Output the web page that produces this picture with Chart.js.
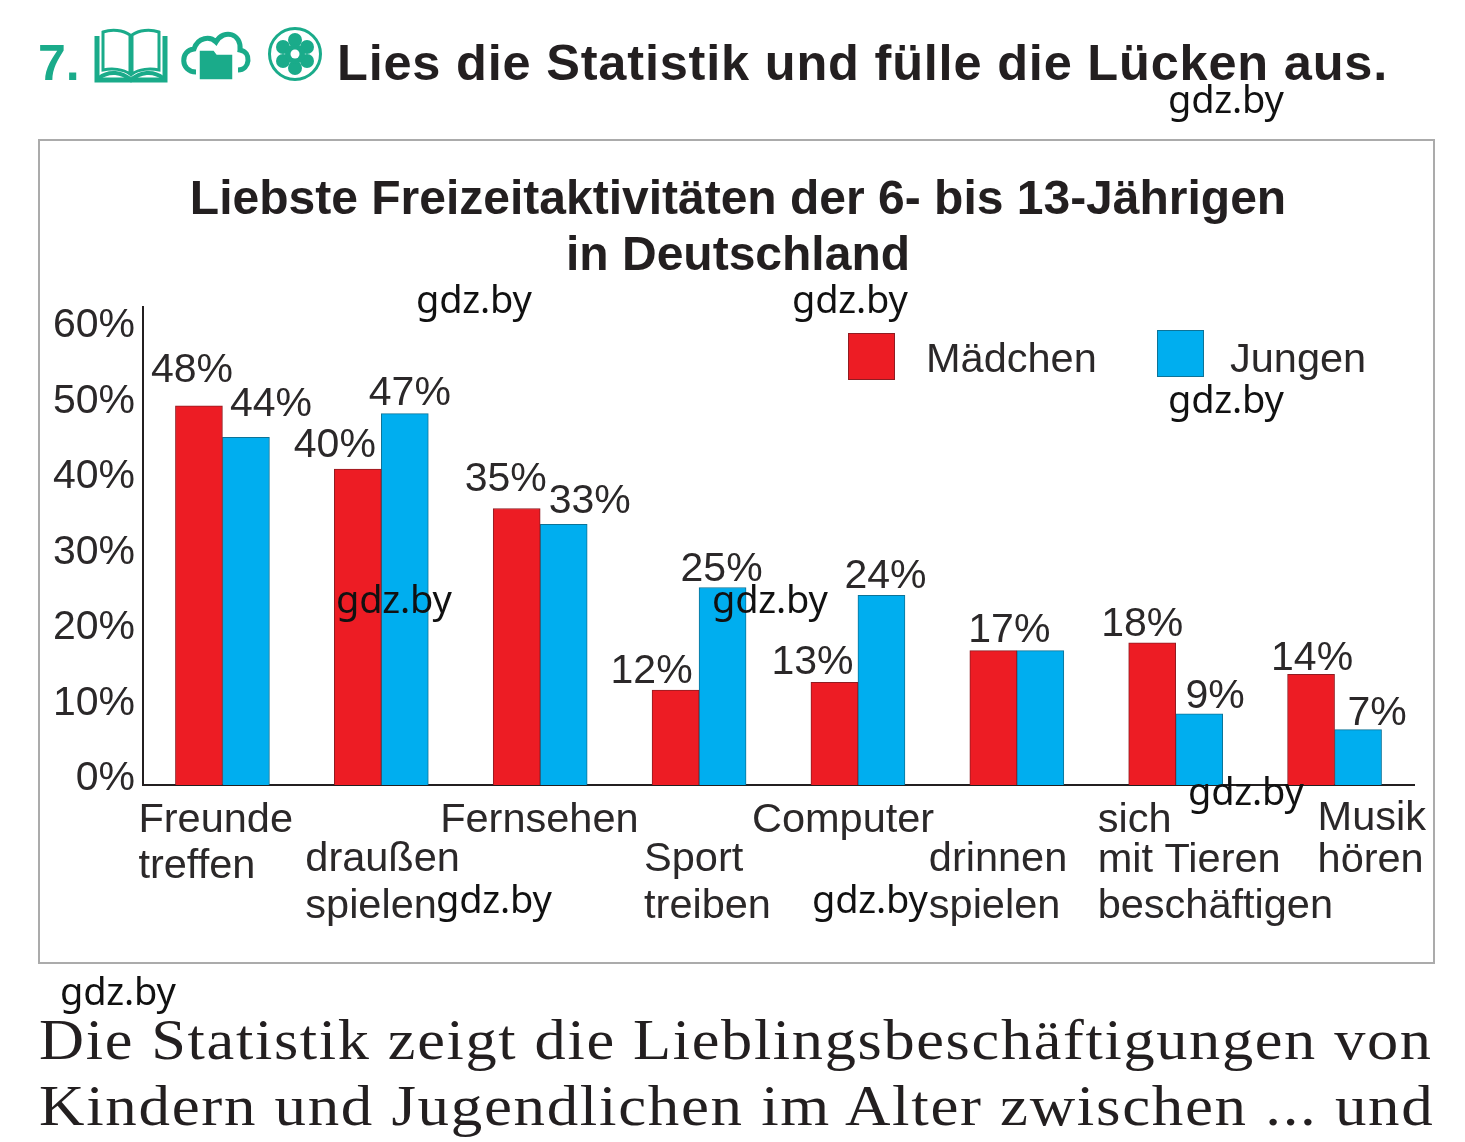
<!DOCTYPE html>
<html lang="de">
<head>
<meta charset="utf-8">
<title>Liebste Freizeitaktivitäten</title>
<script src="https://cdn.jsdelivr.net/npm/chart.js@4"></script>
<style>
html,body{margin:0;padding:0;background:#fff;width:1465px;height:1142px;overflow:hidden}
#frame{position:absolute;left:38px;top:139px;width:1393px;height:821px;border:2px solid #ababab}
#c{position:absolute;left:0;top:0}
.t{position:absolute;white-space:nowrap}
#num{left:38px;top:33px;font:bold 50px/60px "Liberation Sans";color:#1aab8a}
#head{left:337px;top:33px;font:bold 50.5px/60px "Liberation Sans";color:#231f20;letter-spacing:.8px}
.w{font:38px/44px "Noto Sans";color:#111;z-index:5;letter-spacing:-.2px}
.s{left:39px;font:56px/60px "Liberation Serif";color:#231f20;letter-spacing:1.5px;transform-origin:left center}
svg{position:absolute}
</style>
</head>
<body>
<div class="t" id="num">7.</div>
<svg style="left:94px;top:28px" width="74" height="56" viewBox="0 0 74 56" fill="none" stroke="#1aab8a">
  <path d="M3 8V52H71V8" stroke-width="5"/>
  <path d="M9 42V4C18 1 29 2 36 7V46C29 41 18 40 9 42Z" stroke-width="3"/>
  <path d="M65 42V4C56 1 45 2 38 7V46C45 41 56 40 65 42Z" stroke-width="3"/>
  <path d="M5 50C15 42 28 44 37 52C46 44 59 42 69 50" stroke-width="4"/>
</svg>
<svg style="left:180px;top:28px" width="72" height="56" viewBox="0 0 72 56">
  <path d="M16 44C0 44 0 22 14 21C18 9 30 8 36 14C44 0 62 6 60 22C72 24 70 42 58 42" fill="none" stroke="#1aab8a" stroke-width="5"/>
  <path d="M19 52V22H34L37 26H53V52Z" fill="#1aab8a" stroke="#fff" stroke-width="1.5"/>
</svg>
<svg style="left:266px;top:26px" width="58" height="58" viewBox="0 0 58 58">
  <circle cx="29" cy="28" r="25.5" fill="none" stroke="#1aab8a" stroke-width="3"/>
  <g fill="#1aab8a"><circle cx="29" cy="14" r="7"/><circle cx="41" cy="21" r="7"/><circle cx="41" cy="35" r="7"/><circle cx="29" cy="42" r="7"/><circle cx="17" cy="35" r="7"/><circle cx="17" cy="21" r="7"/><circle cx="29" cy="28" r="10"/></g>
  <circle cx="29" cy="28" r="4.5" fill="#fff"/>
</svg>
<div class="t" id="head">Lies die Statistik und fülle die Lücken aus.</div>
<div id="frame"></div>
<canvas id="c" width="1465" height="1142"></canvas>
<div class="t s" style="top:1010px;transform:scaleX(1.113)">Die Statistik zeigt die Lieblingsbeschäftigungen von</div>
<div class="t s" style="top:1076px;transform:scaleX(1.124)">Kindern und Jugendlichen im Alter zwischen ... und</div>
<div class="t w" style="left:1168px;top:76px">gdz.by</div>
<div class="t w" style="left:416px;top:276px">gdz.by</div>
<div class="t w" style="left:792px;top:276px">gdz.by</div>
<div class="t w" style="left:1168px;top:376px">gdz.by</div>
<div class="t w" style="left:336px;top:576px">gdz.by</div>
<div class="t w" style="left:712px;top:576px">gdz.by</div>
<div class="t w" style="left:1188px;top:768px">gdz.by</div>
<div class="t w" style="left:436px;top:876px">gdz.by</div>
<div class="t w" style="left:812px;top:876px">gdz.by</div>
<div class="t w" style="left:60px;top:968px">gdz.by</div>
<script>
const chartTitle = ["Liebste Freizeitaktivitäten der 6- bis 13-Jährigen", "in Deutschland"];
const categories = [
  ["Freunde", "treffen"],
  ["draußen", "spielen"],
  ["Fernsehen"],
  ["Sport", "treiben"],
  ["Computer"],
  ["drinnen", "spielen"],
  ["sich", "mit Tieren", "beschäftigen"],
  ["Musik", "hören"]
];
const maedchen = [48, 40, 35, 12, 13, 17, 18, 14];
const jungen = [44, 47, 33, 25, 24, 17, 9, 7];
const seriesNames = ["Mädchen", "Jungen"];
const yTickValues = [0, 10, 20, 30, 40, 50, 60];

// hand-placed label offsets, in pixels, as in the printed page
const maedchenLabelNudge = [[-7,-35],[-23,-23],[-11,-29],[-24,-19],[-22,-20],[16,-20],[-10,-18],[1,-16]];
const jungenLabelNudge = [[25,-33],[5,-20],[26,-23],[-1,-18],[4,-19],null,[16,-17],[19,-16]];
const catLabelDx = [-84,-76,-100,-55,-106,-88,-78,-17];
const catLabelDy = [[36,82],[75,122],[36],[75,122],[36],[75,122],[36,76,122],[34,76]];

const ink = "#2b2829";
const fontName = "Liberation Sans";

const pagePlugin = {
  id: "pageLabels",
  afterLayout(chart) {
    // the y tick labels sit left of the title's centring box; do not clip them to it
    chart.scales.yLabels.left = 0;
  },
  afterDatasetsDraw(chart) {
    const {ctx} = chart, x = chart.scales.x, y = chart.scales.y;
    ctx.save();
    ctx.fillStyle = ink;
    ctx.font = `41px "${fontName}"`;
    ctx.textBaseline = "middle";
    // value labels
    ctx.textAlign = "center";
    [[maedchen, maedchenLabelNudge, 0], [jungen, jungenLabelNudge, 1]].forEach(([vals, nudge, ds]) => {
      const meta = chart.getDatasetMeta(ds);
      vals.forEach((v, i) => {
        if (!nudge[i]) return;
        ctx.fillText(v + "%", meta.data[i].x + nudge[i][0], y.getPixelForValue(v) + nudge[i][1]);
      });
    });
    // category labels
    ctx.font = `41.5px "${fontName}"`;
    ctx.textAlign = "left";
    categories.forEach((lines, i) => {
      const cx = x.getPixelForValue(i);
      lines.forEach((line, k) => ctx.fillText(line, cx + catLabelDx[i], y.bottom + catLabelDy[i][k]));
    });
    // legend
    const keyBoxes = [[848, 333, 926], [1157, 330, 1230]];
    chart.data.datasets.forEach((d, i) => {
      const [bx, by, tx] = keyBoxes[i];
      ctx.fillStyle = d.backgroundColor;
      ctx.strokeStyle = d.borderColor;
      ctx.lineWidth = 1;
      ctx.fillRect(bx, by, 47, 47);
      ctx.strokeRect(bx + .5, by + .5, 46, 46);
      ctx.fillStyle = ink;
      ctx.fillText(d.label, tx, 361);
    });
    ctx.restore();
  }
};

new Chart(document.getElementById("c"), {
  type: "bar",
  data: {
    labels: categories.map(c => c.join(" ")),
    datasets: [
      {label: seriesNames[0], data: maedchen, backgroundColor: "#ed1c24", borderColor: "#8f1c22", borderWidth: 1, barThickness: 47, yAxisID: "y"},
      {label: seriesNames[1], data: jungen, backgroundColor: "#00aeef", borderColor: "#0d7397", borderWidth: 1, barThickness: 47, yAxisID: "y"}
    ]
  },
  plugins: [pagePlugin],
  options: {
    responsive: false,
    animation: false,
    layout: {padding: {left: 62, right: 51, top: 0, bottom: 0}},
    plugins: {
      legend: {display: false},
      tooltip: {enabled: false},
      title: {
        display: true,
        text: chartTitle,
        color: "#231f20",
        font: {family: fontName, size: 48, weight: "bold", lineHeight: 56 / 48},
        padding: {top: 173, bottom: 22}
      }
    },
    scales: {
      x: {
        grid: {display: false},
        border: {display: true, color: "#231f20", width: 2},
        ticks: {display: false},
        afterFit(s) { s.height = 357; }
      },
      y: {display: false, min: 0, max: 60.5},
      yLabels: {
        position: "left",
        min: -0.8,
        max: 62.5,
        grid: {display: false, drawTicks: false},
        border: {display: true, color: "#231f20", width: 2},
        ticks: {color: ink, font: {family: fontName, size: 41}, padding: 8, callback: v => v + "%"},
        afterBuildTicks(s) { s.ticks = yTickValues.map(v => ({value: v})); },
        afterFit(s) { s.width = 81; }
      }
    }
  }
});
</script>
</body>
</html>
